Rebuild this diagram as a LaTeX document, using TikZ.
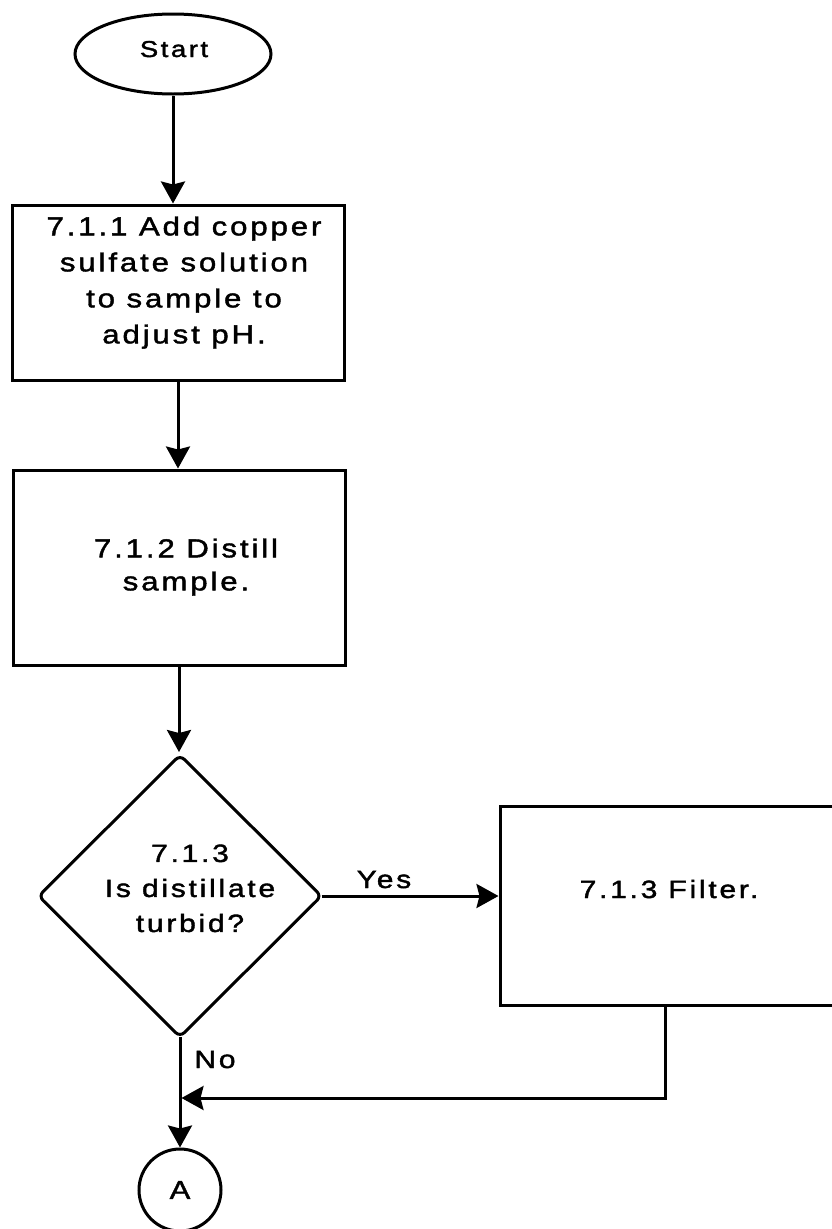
\documentclass[tikz,border=0pt]{standalone}
\usepackage{fontspec}
\setmainfont[LetterSpace=11,FakeStretch=1.2,FakeBold=1.6]{Liberation Sans}
\usetikzlibrary{shapes.geometric,arrows.meta,calc}
\begin{document}
\begin{tikzpicture}[x=1pt,y=-1pt,line width=3pt,
  box/.style={draw,rectangle,inner sep=0pt},
  lbl/.style={font=\fontsize{26}{36}\selectfont,align=center,inner sep=0pt},
  small/.style={font=\fontsize{25}{35}\selectfont},
  arr/.style={-{Stealth[length=22pt,width=24pt,inset=3pt]}}]
\useasboundingbox (0,0) rectangle (831,1229);
% shapes
\node[draw,ellipse,minimum width=196pt,minimum height=80pt,inner sep=0pt] (start) at (173,54) {};
\node[box,minimum width=332pt,minimum height=175pt] (b1) at (178,292.5) {};
\node[box,minimum width=332pt,minimum height=195pt] (b2) at (179,567.5) {};
\node[draw,diamond,minimum width=284pt,minimum height=283pt,inner sep=0pt,rounded corners=6pt] (dec) at (180,896) {};
\node[box,minimum width=345pt,minimum height=199pt] (fil) at (672.5,905.5) {};
\node[draw,circle,minimum size=82pt,lbl] (A) at (180,1190) {A};
% texts
\node[lbl,font=\fontsize{23}{25}\selectfont,anchor=base] (starttxt) at (174,57) {Start};
\node[lbl,anchor=north] (t1) at (184,215) {7.1.1 Add copper\\sulfate solution\\to sample to\\adjust pH.};
\node[lbl,font=\fontsize{26}{33}\selectfont,anchor=north] (t2) at (186,537) {7.1.2 Distill\\sample.};
\node[lbl,small,anchor=north] (t3) at (190,843) {7.1.3\\Is distillate\\turbid?};
\node[lbl,small,anchor=base] (t4) at (669,898) {7.1.3 Filter.};
\node[lbl,small,anchor=base] (yes) at (384,888) {Yes};
\node[lbl,small,anchor=base] (no) at (215,1068) {No};
% connectors
\coordinate (fb) at (665,1098);
\coordinate (j) at (180,1098);
\draw[arr] (start.south) -- (start.south |- b1.north);
\draw[arr] (b1.south) -- (b1.south |- b2.north);
\draw[arr,shorten >=1pt] (b2.south) -- (b2.south |- dec.north);
\draw[arr,shorten <=-2pt] (dec.east) -- (dec.east -| fil.west);
\draw[arr,shorten <=-2pt] (dec.south) -- (A.north);
\draw[arr,shorten >=1.5pt] (fb |- fil.south) -- (fb) -- (j);
\end{tikzpicture}
\end{document}
